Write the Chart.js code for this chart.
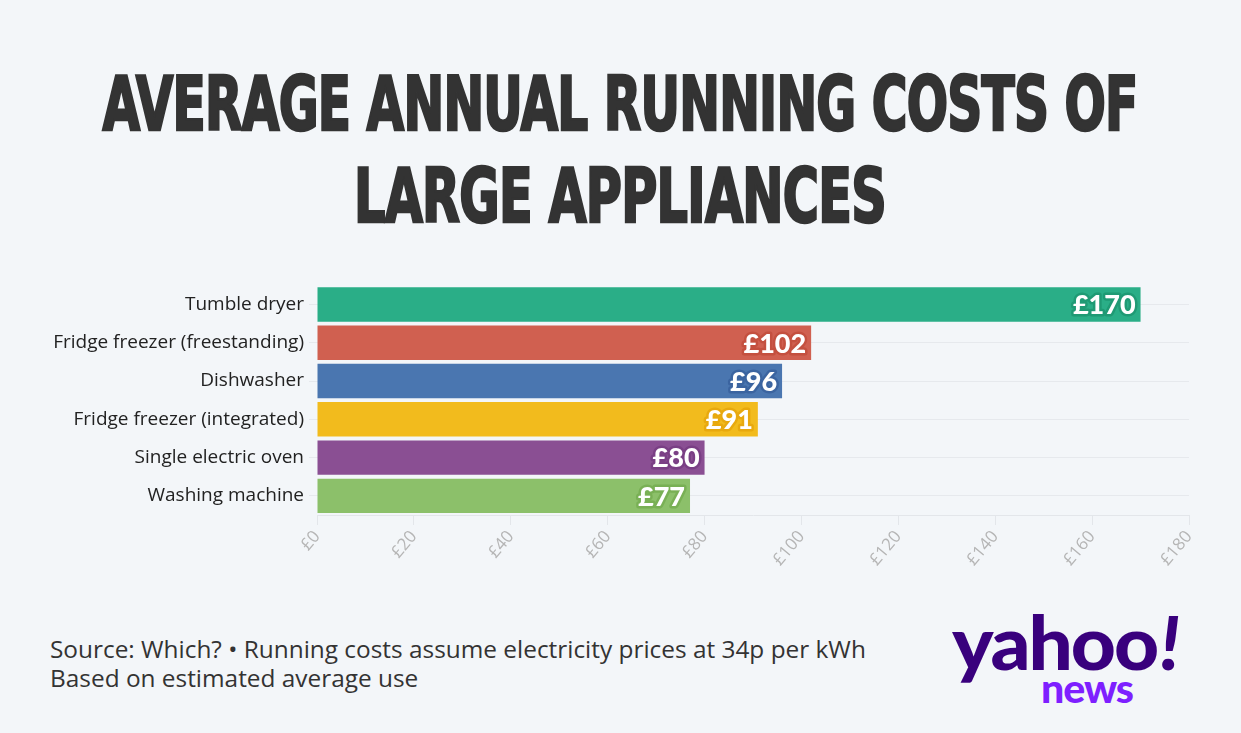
<!DOCTYPE html>
<html>
<head>
<meta charset="utf-8">
<script src="https://cdn.jsdelivr.net/npm/chart.js@4"></script>
<style>
  html, body { margin: 0; padding: 0; }
  body { width: 1241px; height: 733px; background: #f3f6f9; position: relative; overflow: hidden; font-family: "Open Sans", sans-serif; }
  .tline { position: absolute; left: 620px; font-family: "Liberation Sans Narrow", "DejaVu Sans Condensed", sans-serif; font-weight: bold; font-size: 74px; line-height: 92px; white-space: nowrap; color: #333; letter-spacing: -1px; transform-origin: 0 0; -webkit-text-stroke: 2.5px #333; }
  #t1 { top: 58px; }
  #t2 { top: 150px; }
  #chartBox { position: absolute; left: 0; top: 269px; width: 1241px; height: 311px; }
  #source { position: absolute; left: 50px; top: 634px; font-size: 24.4px; line-height: 29px; color: #333; }
  .logo { position: absolute; font-family: "Lato", sans-serif; font-weight: 900; white-space: nowrap; transform-origin: 0 0; }
  #yahoo { left: 952px; top: 605px; font-size: 74px; line-height: 74px; color: #39007d; letter-spacing: -2px; }
  #bang { left: 1160px; top: 605px; font-size: 74px; line-height: 74px; color: #39007d; font-style: italic; }
  #news { left: 1041px; top: 668px; font-size: 40px; line-height: 40px; color: #7e1fff; letter-spacing: -1px; }
</style>
</head>
<body>
<div id="t1" class="tline">AVERAGE ANNUAL RUNNING COSTS OF</div>
<div id="t2" class="tline">LARGE APPLIANCES</div>
<div id="chartBox"><canvas id="costChart"></canvas></div>
<div id="source">Source: Which? • Running costs assume electricity prices at 34p per kWh<br>Based on estimated average use</div>
<div id="yahoo" class="logo">yahoo</div>
<div id="bang" class="logo">!</div>
<div id="news" class="logo">news</div>

<script>
const appliances = [
    "Tumble dryer",
    "Fridge freezer (freestanding)",
    "Dishwasher",
    "Fridge freezer (integrated)",
    "Single electric oven",
    "Washing machine"
];
const costs = [170, 102, 96, 91, 80, 77];
const barColours = ["#2aae87", "#d06050", "#4a76b0", "#f2bb1d", "#8a4f93", "#8cc06a"];
const outlineColours = ["#1f9a74", "#c4503f", "#3b64a0", "#e8a90e", "#7a3f85", "#79b055"];
const xTicks = [0, 20, 40, 60, 80, 100, 120, 140, 160, 180];


// squeeze the title lines horizontally to match the condensed headline font
function fitWidth(id, target, centred) {
    const el = document.getElementById(id);
    const w = el.getBoundingClientRect().width;
    const k = target / w;
    el.style.transform = (centred ? "translateX(" + (-target / 2) + "px) " : "") + "scaleX(" + k + ")";
}
fitWidth("t1", 1035, true);
fitWidth("t2", 532, true);
fitWidth("yahoo", 205, false);
fitWidth("news", 92, false);


// white value labels with a coloured outline, right aligned at the bar end
const valueLabels = {
    id: "valueLabels",
    afterDatasetsDraw(chart) {
        const ctx = chart.ctx;
        const meta = chart.getDatasetMeta(0);
        ctx.save();
        ctx.font = "900 27px Lato, sans-serif";
        ctx.textAlign = "right";
        ctx.textBaseline = "middle";
        ctx.lineJoin = "round";
        meta.data.forEach((bar, i) => {
            const text = "£" + costs[i];
            const x = bar.x - 5;
            const y = bar.y + 1;
            ctx.lineWidth = 5;
            ctx.strokeStyle = outlineColours[i];
            ctx.strokeText(text, x, y);
            ctx.fillStyle = "#ffffff";
            ctx.fillText(text, x, y);
        });
        ctx.restore();
    }
};


const dataCosts = {
    labels: appliances,
    datasets: [{
        label: "Annual running cost",
        data: costs,
        backgroundColor: barColours,
        borderWidth: 0,
        barPercentage: 0.9,
        categoryPercentage: 1.0
    }]
};

const configCosts = {
    type: "bar",
    data: dataCosts,
    options: {
        indexAxis: "y",
        responsive: true,
        maintainAspectRatio: false,
        animation: false,
        layout: { padding: { top: 5, right: 52, bottom: 0, left: 0 } },
        plugins: {
            legend: { display: false },
            tooltip: { enabled: false }
        },
        scales: {
            x: {
                min: 0,
                max: 180,
                afterBuildTicks: axis => { axis.ticks = xTicks.map(v => ({ value: v })); },
                afterFit: axis => { axis.height = 65; },
                grid: {
                    drawOnChartArea: false,
                    drawTicks: true,
                    tickLength: 10,
                    color: "#e3e6ea"
                },
                border: { display: true, color: "#e3e6ea" },
                ticks: {
                    color: "#b5b5b5",
                    font: { family: "Open Sans", size: 17 },
                    minRotation: 50,
                    maxRotation: 50,
                    padding: 2,
                    callback: v => "£" + v
                }
            },
            y: {
                afterFit: axis => { axis.width = 317; },
                grid: {
                    offset: false,
                    color: "#e6e9ed",
                    tickLength: 8
                },
                border: { display: false },
                ticks: {
                    color: "#222",
                    font: { family: "Open Sans", size: 19 },
                    padding: 5
                }
            }
        }
    },
    plugins: [valueLabels]
};

const ctxCosts = document.getElementById("costChart").getContext("2d");
new Chart(ctxCosts, configCosts);
</script>
</body>
</html>
